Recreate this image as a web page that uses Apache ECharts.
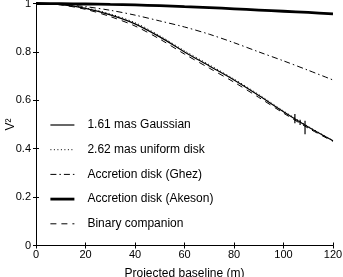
<!DOCTYPE html>
<html><head><meta charset="utf-8">
<script src="https://cdn.jsdelivr.net/npm/echarts@6/dist/echarts.min.js"></script>
<style>html,body{margin:0;padding:0;background:#fff}#c{width:343px;height:277px}</style>
</head><body><div id="c"></div>
<script>
const baseline = [0,10,20,30,40,50,60,70,80,90,100,110,120];
const gaussian = [1,0.995,0.98,0.953,0.916,0.862,0.80,0.742,0.684,0.62,0.553,0.49,0.433];
const uniformDisk = [1,0.996,0.982,0.957,0.921,0.867,0.805,0.747,0.688,0.624,0.556,0.492,0.434];
const ghez = [1,0.997,0.987,0.972,0.952,0.928,0.903,0.873,0.838,0.80,0.763,0.724,0.684];
const akeson = [1,0.9995,0.998,0.996,0.994,0.991,0.987,0.983,0.978,0.973,0.968,0.963,0.957];
const binary = [1,0.994,0.976,0.946,0.907,0.853,0.791,0.733,0.675,0.612,0.547,0.485,0.43];
const obsX = [104.6,106.7,108.7];
const obsY = [0.524,0.509,0.488];
const obsErr = [0.019,0.011,0.028];
const xTicks = [0,20,40,60,80,100,120];
const yTicks = [0,0.2,0.4,0.6,0.8,1];
const names = ['1.61 mas Gaussian','2.62 mas uniform disk','Accretion disk (Ghez)','Accretion disk (Akeson)','Binary companion'];

const pair = arr => baseline.map((b,i)=>[b,arr[i]]);
const font = 'Liberation Sans, Arial, sans-serif';
const axisCommon = {
  axisLine:{show:true,lineStyle:{color:'#000',width:1}},
  axisTick:{show:true,inside:true,length:3,lineStyle:{color:'#000'}},
  splitLine:{show:false}
};
const styles = [
  {type:'solid',width:1.2},
  {type:[1,2.5],width:1},
  {type:[6,3,1.5,3],width:1},
  {type:'solid',width:2.8},
  {type:[6,5],width:1}
];
const chart = echarts.init(document.getElementById('c'));
const lineS = (i,data) => ({
  name:names[i], type:'line', data:pair(data), showSymbol:false, symbol:'none', smooth:0.3,
  lineStyle:{color:'#000',width:styles[i].width,type:styles[i].type}, itemStyle:{color:'#000'}, z:3
});
chart.setOption({
  animation:false,
  grid:{left:36,right:10,top:3.5,bottom:31.5,containLabel:false,outerBoundsMode:'none'},
  legend:{
    orient:'vertical', left:49, top:119, padding:0, itemWidth:24, itemHeight:14, itemGap:12.7,
    data:names.map((n,i)=>({name:n,lineStyle:{color:'#000',width:styles[i].width,type:styles[i].type}})),
    itemStyle:{opacity:0},
    textStyle:{color:'#000',fontFamily:font,fontSize:12,padding:[0,0,0,8]},
    selectedMode:false
  },
  xAxis:[
    Object.assign({type:'value',min:0,max:120,interval:20,name:'Projected baseline (m)',nameLocation:'middle',nameGap:22,nameMoveOverlap:false,
      nameTextStyle:{color:'#000',fontFamily:font,fontSize:12}},axisCommon,{axisLabel:{color:'#000',fontFamily:font,fontSize:11,margin:4}}),
    Object.assign({type:'value',min:0,max:120,interval:20,position:'top'},axisCommon,{axisLabel:{show:false}})
  ],
  yAxis:[
    Object.assign({type:'value',min:0,max:1,interval:0.2,name:'V²',nameLocation:'middle',nameGap:19,nameRotate:90,nameMoveOverlap:false,
      nameTextStyle:{color:'#000',fontFamily:font,fontSize:12}},axisCommon,{axisLabel:{color:'#000',fontFamily:font,fontSize:11,margin:5,formatter:v=>String(+v.toFixed(1))}}),
    Object.assign({type:'value',min:0,max:1,interval:0.2,position:'right'},axisCommon,{axisLabel:{show:false}})
  ],
  series:[
    lineS(0,gaussian),
    lineS(1,uniformDisk),
    lineS(2,ghez),
    lineS(3,akeson),
    lineS(4,binary),
    {
      type:'custom', data:obsX.map((x,i)=>[x,obsY[i],obsErr[i]]), z:4,
      renderItem:(params,api)=>{
        const x=api.value(0), y=api.value(1), e=api.value(2);
        const p1=api.coord([x,y+e]), p2=api.coord([x,y-e]);
        return {type:'line',shape:{x1:p1[0],y1:p1[1],x2:p2[0],y2:p2[1]},style:{stroke:'#000',lineWidth:1.2}};
      }
    }
  ]
});
</script></body></html>
